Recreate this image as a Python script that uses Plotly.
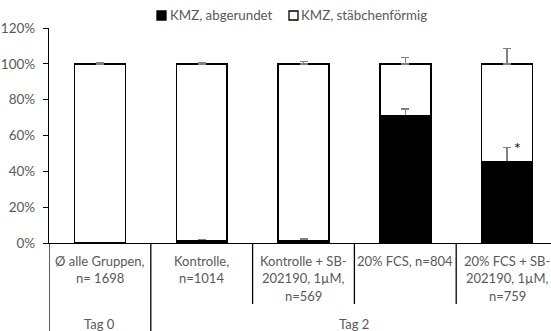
import plotly.graph_objects as go

# Category labels (one list entry per printed line) and the day groups below them
cat_lines = [
    ["Ø alle Gruppen,", "n= 1698"],
    ["Kontrolle,", "n=1014"],
    ["Kontrolle + SB-", "202190, 1µM,", "n=569"],
    ["20% FCS, n=804"],
    ["20% FCS + SB-", "202190, 1µM,", "n=759"],
]
groups = ["Tag 0", "Tag 2"]
group_span = [(0, 0), (1, 4)]

# Percent of cardiomyocytes per shape class, with upward error (SD)
rounded = [0.0, 1.0, 1.2, 71.3, 45.3]
rounded_err = [0.0, 1.0, 1.0, 3.4, 7.9]
rod = [100 - v for v in rounded]
rod_err = [0.5, 0.7, 1.3, 3.7, 8.4]
significant = [False, False, False, False, True]

series_names = ["KMZ, abgerundet", "KMZ, stäbchenförmig"]
tick_vals = [0, 20, 40, 60, 80, 100, 120]

FONT = "Lato"
TXT = "#595959"
W, H = 551, 331
ML, MR, MT, MB = 49, 0, 28, 88
PW, PH = W - ML - MR, H - MT - MB


def px_x(px):
    return (px - ML) / PW


def px_y(py):
    return (MT + PH - py) / PH


x = list(range(len(cat_lines)))
err_style = dict(type="data", symmetric=False, arrayminus=[0] * len(x),
                 color="#808080", thickness=1.4, width=4)

fig = go.Figure()
fig.add_trace(go.Bar(
    x=x, y=rounded, name=series_names[0], width=0.5,
    marker=dict(color="black", line=dict(color="black", width=1.5)),
    error_y=dict(array=rounded_err, **err_style),
))
fig.add_trace(go.Bar(
    x=x, y=rod, name=series_names[1], width=0.5,
    marker=dict(color="rgba(255,255,255,0)", line=dict(color="black", width=1.5)),
    error_y=dict(array=rod_err, **err_style),
))

annotations = []
shapes = []

# significance marks
for i, sig in enumerate(significant):
    if sig:
        annotations.append(dict(x=i, y=rounded[i] + rounded_err[i], xref="x", yref="y",
                                text="*", showarrow=False, xshift=10, yanchor="middle",
                                font=dict(family=FONT, size=16, color="black")))

# category label table below the axis
line_y0, line_dy = 261, 17.3
for i, lines in enumerate(cat_lines):
    for k, t in enumerate(lines):
        annotations.append(dict(x=i, y=px_y(line_y0 + k * line_dy), xref="x", yref="paper",
                                text=t, showarrow=False, yanchor="middle",
                                font=dict(family=FONT, size=13, color=TXT)))
for g, (a, b) in zip(groups, group_span):
    annotations.append(dict(x=(a + b) / 2, y=px_y(324), xref="x", yref="paper",
                            text=g, showarrow=False, yanchor="middle",
                            font=dict(family=FONT, size=13, color=TXT)))

# table rules: full-height at group borders, shorter between categories
group_edges = {a - 0.5 for a, _ in group_span}
for i in range(len(cat_lines)):
    xe = i - 0.5
    y_end = px_y(H) if xe in group_edges else px_y(304)
    shapes.append(dict(type="line", xref="x", yref="paper", x0=xe, x1=xe, y0=0, y1=y_end,
                       line=dict(color="black", width=1.3)))

# legend row
leg = [(157, 168, "black"), (289, 299, "white")]
for (sx, tx, fill), name in zip(leg, series_names):
    shapes.append(dict(type="rect", xref="paper", yref="paper",
                       x0=px_x(sx), x1=px_x(sx + 9), y0=px_y(20), y1=px_y(11),
                       fillcolor=fill, line=dict(color="black", width=1.3)))
    annotations.append(dict(x=px_x(tx), y=px_y(15.5), xref="paper", yref="paper",
                            text=name, showarrow=False, xanchor="left", yanchor="middle",
                            font=dict(family=FONT, size=13.3, color=TXT)))

fig.update_layout(
    width=W, height=H,
    margin=dict(l=ML, r=MR, t=MT, b=MB),
    barmode="stack",
    showlegend=False,
    plot_bgcolor="white", paper_bgcolor="white",
    annotations=annotations, shapes=shapes,
    font=dict(family=FONT, size=13, color=TXT),
)
fig.update_xaxes(range=[-0.5, -0.5 + PW / 101.8], showticklabels=False, ticks="",
                 showgrid=False, zeroline=False, showline=True,
                 linecolor="black", linewidth=1.3)
fig.update_yaxes(range=[0, 120], tickvals=tick_vals, ticktext=[f"{v}%" for v in tick_vals],
                 ticks="outside", ticklen=5, tickcolor="black", tickwidth=1.3,
                 ticklabelstandoff=5, showgrid=False, zeroline=False, showline=True,
                 linecolor="black", linewidth=1.3,
                 tickfont=dict(family=FONT, size=13.5, color=TXT))

fig.write_html("out.html")
